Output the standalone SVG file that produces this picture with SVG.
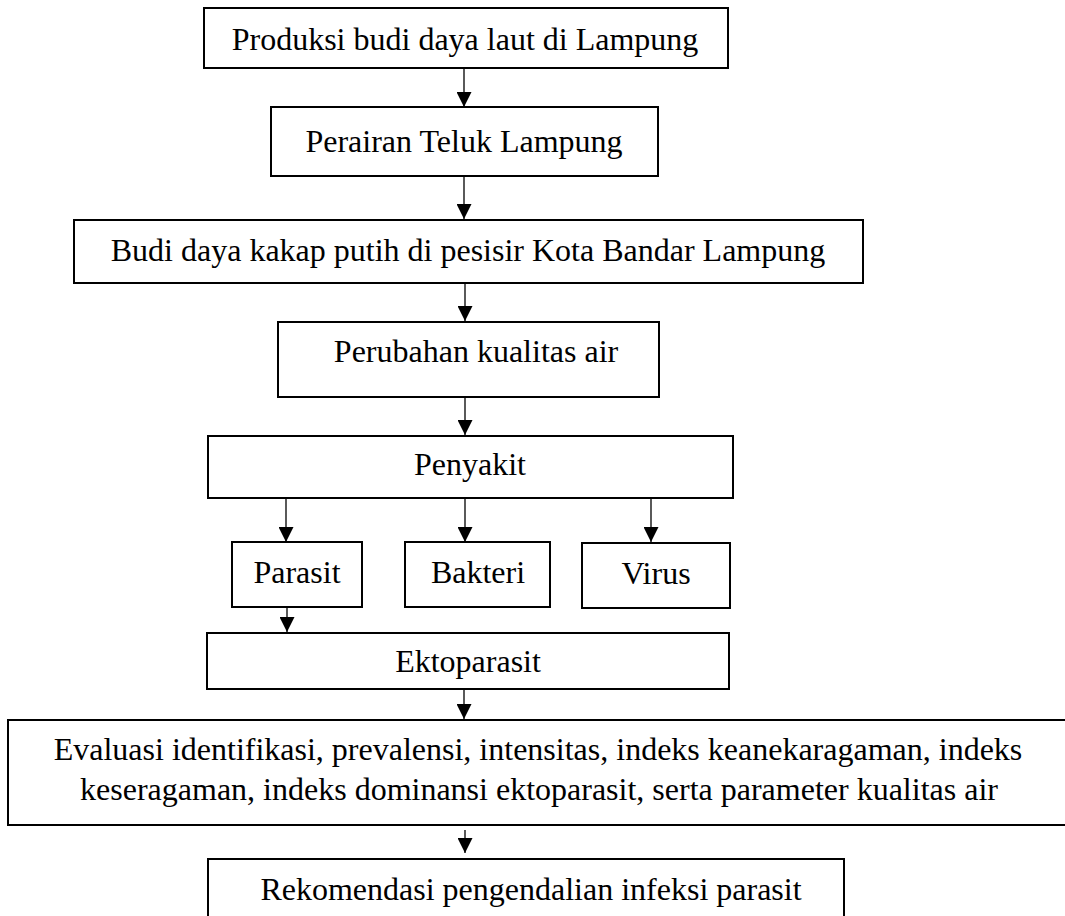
<svg xmlns="http://www.w3.org/2000/svg" width="1065" height="916" viewBox="0 0 1065 916">
<style>
.box{fill:#fff;stroke:#000;stroke-width:2}
.t{font-family:"Liberation Serif","Times New Roman",serif;font-size:32px;fill:#000;text-anchor:middle}
.c{stroke:#000;stroke-width:1.3;fill:none}
</style>
<defs>
<marker id="ah" markerWidth="15" markerHeight="15" refX="15" refY="7.5" orient="auto" markerUnits="userSpaceOnUse" viewBox="0 0 15 15">
<path d="M0,0 L15,7.5 L0,15 Z" fill="#000"/>
</marker>
</defs>
<rect width="1065" height="916" fill="#fff"/>
<g id="connectors">
<line class="c" x1="464" y1="68" x2="464" y2="107" marker-end="url(#ah)"/>
<line class="c" x1="464" y1="176" x2="464" y2="219" marker-end="url(#ah)"/>
<line class="c" x1="465" y1="283" x2="465" y2="321" marker-end="url(#ah)"/>
<line class="c" x1="465" y1="397" x2="465" y2="435" marker-end="url(#ah)"/>
<line class="c" x1="286" y1="498" x2="286" y2="542" marker-end="url(#ah)"/>
<line class="c" x1="465" y1="498" x2="465" y2="542" marker-end="url(#ah)"/>
<line class="c" x1="651" y1="498" x2="651" y2="542" marker-end="url(#ah)"/>
<line class="c" x1="287" y1="607" x2="287" y2="632" marker-end="url(#ah)"/>
<line class="c" x1="464" y1="689" x2="464" y2="719" marker-end="url(#ah)"/>
<line class="c" x1="465" y1="830" x2="465" y2="853" marker-end="url(#ah)"/>
</g>
<g id="n1"><rect class="box" x="204" y="8" width="524" height="60"/><text class="t" x="465" y="50">Produksi budi daya laut di Lampung</text></g>
<g id="n2"><rect class="box" x="271" y="107" width="387" height="69"/><text class="t" x="464" y="152">Perairan Teluk Lampung</text></g>
<g id="n3"><rect class="box" x="74" y="220" width="789" height="63"/><text class="t" x="468" y="261">Budi daya kakap putih di pesisir Kota Bandar Lampung</text></g>
<g id="n4"><rect class="box" x="278" y="322" width="381" height="75"/><text class="t" x="476" y="362">Perubahan kualitas air</text></g>
<g id="n5"><rect class="box" x="208" y="436" width="525" height="62"/><text class="t" x="470" y="475">Penyakit</text></g>
<g id="n6"><rect class="box" x="232" y="542" width="130" height="65"/><text class="t" x="297" y="583">Parasit</text></g>
<g id="n7"><rect class="box" x="405" y="542" width="145" height="65"/><text class="t" x="478" y="583">Bakteri</text></g>
<g id="n8"><rect class="box" x="582" y="543" width="148" height="65"/><text class="t" x="656" y="584">Virus</text></g>
<g id="n9"><rect class="box" x="207" y="633" width="522" height="56"/><text class="t" x="468" y="672">Ektoparasit</text></g>
<g id="n10"><rect class="box" x="8" y="720" width="1080" height="105"/><text class="t" x="538" y="760">Evaluasi identifikasi, prevalensi, intensitas, indeks keanekaragaman, indeks</text><text class="t" x="539" y="800">keseragaman, indeks dominansi ektoparasit, serta parameter kualitas air</text></g>
<g id="n11"><rect class="box" x="208" y="859" width="636" height="80"/><text class="t" x="531" y="900">Rekomendasi pengendalian infeksi parasit</text></g>
</svg>
